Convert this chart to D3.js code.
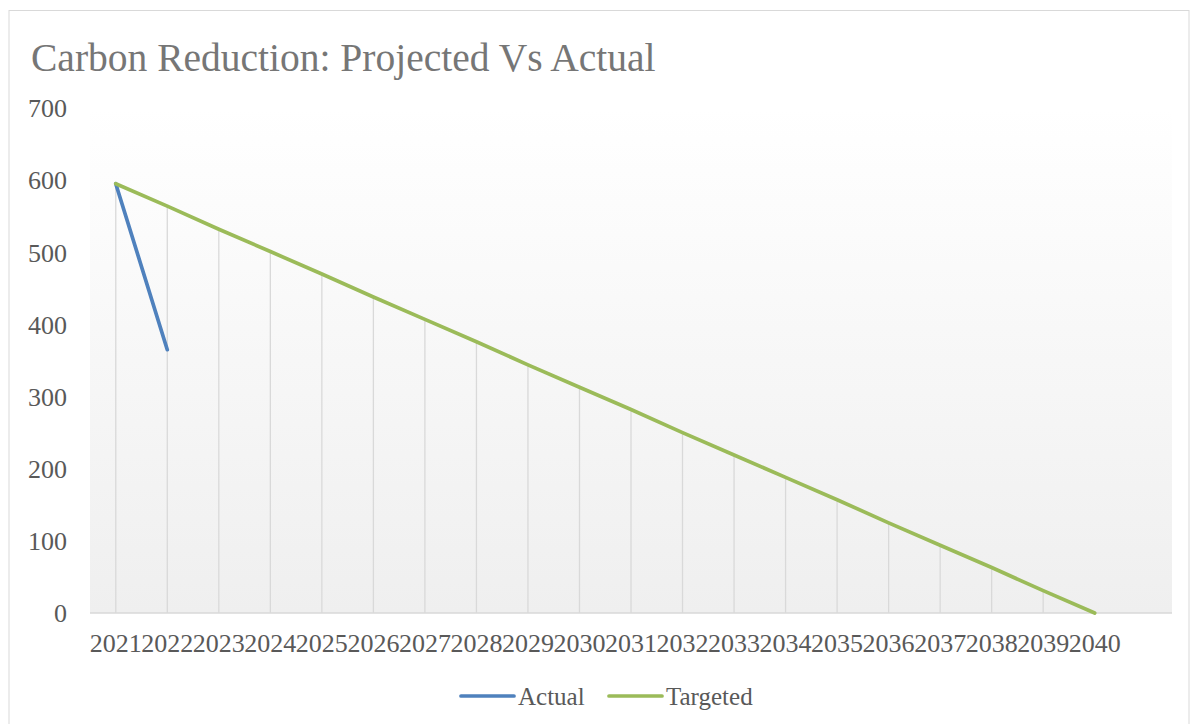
<!DOCTYPE html>
<html>
<head>
<meta charset="utf-8">
<script src="https://cdn.jsdelivr.net/npm/d3@7"></script>
<style>
html,body{margin:0;padding:0;background:#fff;}
svg{display:block;}
</style>
</head>
<body>
<svg id="chart" width="1194" height="724"></svg>
<script>
const title = "Carbon Reduction: Projected Vs Actual";
const years = ["2021","2022","2023","2024","2025","2026","2027","2028","2029","2030",
               "2031","2032","2033","2034","2035","2036","2037","2038","2039","2040"];
const actual = [595, 365];
const targeted = [595, 564, 532, 501, 470, 438, 407, 376, 344, 313,
                  282, 250, 219, 188, 157, 125, 94, 63, 31, 0];
const yTicks = [0, 100, 200, 300, 400, 500, 600, 700];
const seriesNames = ["Actual", "Targeted"];
const seriesColors = ["#4f81bd", "#9bbb59"];

const svg = d3.select("#chart");
const font = "'Liberation Serif', 'Times New Roman', serif";
const plot = {left: 90, right: 1172, top: 108, bottom: 613};

// outer frame
svg.append("rect").attr("x", 9).attr("y", 10.5).attr("width", 1180).attr("height", 740)
  .attr("fill", "#fff").attr("stroke", "#d9d9d9").attr("stroke-width", 1);

// gradient
const defs = svg.append("defs");
const grad = defs.append("linearGradient").attr("id", "bg").attr("x1", 0).attr("y1", 0).attr("x2", 0).attr("y2", 1);
grad.append("stop").attr("offset", "0%").attr("stop-color", "#ffffff");
grad.append("stop").attr("offset", "100%").attr("stop-color", "#efefef");

const x = d3.scaleBand().domain(years.concat([""])).range([plot.left, plot.right]);
const y = d3.scaleLinear().domain([0, 700]).range([plot.bottom, plot.top]);
const cx = d => x(d) + x.bandwidth() / 2;

svg.append("rect").attr("x", plot.left).attr("y", plot.top)
  .attr("width", plot.right - plot.left).attr("height", plot.bottom - plot.top)
  .attr("fill", "url(#bg)");

// title
svg.append("text").attr("x", 31).attr("y", 71).text(title)
  .attr("font-family", font).attr("font-size", 39.5).attr("fill", "#767676");

// drop lines
svg.append("g").selectAll("line").data(years).join("line")
  .attr("x1", d => cx(d)).attr("x2", d => cx(d))
  .attr("y1", (d, i) => y(Math.max(targeted[i], actual[i] ?? -Infinity)))
  .attr("y2", plot.bottom)
  .attr("stroke", "#d9d9d9").attr("stroke-width", 1.3);

// x axis
const xAxis = d3.axisBottom(x).tickValues(years).tickSize(0).tickPadding(0);
const gx = svg.append("g").attr("transform", `translate(0,${plot.bottom})`).call(xAxis);
gx.select(".domain").attr("stroke", "#d9d9d9").attr("stroke-width", 1.5)
  .attr("d", `M${plot.left},0H${plot.right}`);
gx.selectAll("text").attr("font-family", font).attr("font-size", 26)
  .attr("fill", "#595959").attr("dy", null).attr("y", 39);

// y axis
const yAxis = d3.axisLeft(y).tickValues(yTicks).tickSize(0).tickPadding(0);
const gy = svg.append("g").attr("transform", `translate(67,0)`).call(yAxis);
gy.select(".domain").remove();
gy.selectAll("text").attr("font-family", font).attr("font-size", 26)
  .attr("fill", "#595959").attr("dy", "0.34em");

// lines
const line = d3.line().x((d, i) => cx(years[i])).y(d => y(d));
[actual, targeted].forEach((s, k) => {
  svg.append("path").datum(s).attr("d", line)
    .attr("fill", "none").attr("stroke", seriesColors[k]).attr("stroke-width", 3.7)
    .attr("stroke-linecap", "round").attr("stroke-linejoin", "round");
});

// legend
const legendX = [460, 608];
seriesNames.forEach((n, k) => {
  const g = svg.append("g").attr("transform", `translate(${legendX[k]},696)`);
  g.append("line").attr("x1", 1).attr("x2", 54).attr("y1", 0).attr("y2", 0)
    .attr("stroke", seriesColors[k]).attr("stroke-width", 3.7).attr("stroke-linecap", "round");
  g.append("text").attr("x", 58).attr("y", 0).attr("dy", "0.34em").text(n)
    .attr("font-family", font).attr("font-size", 25).attr("fill", "#595959");
});
</script>
</body>
</html>
